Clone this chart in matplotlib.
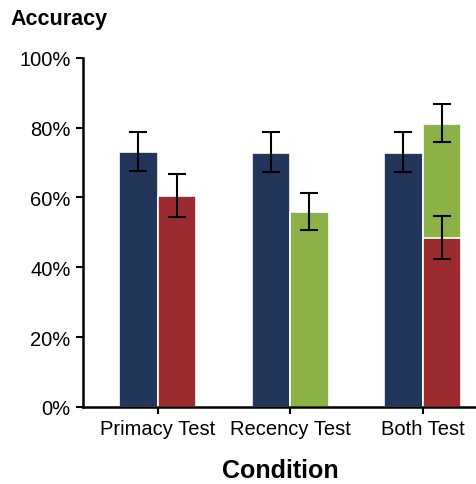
import numpy as np
import matplotlib
matplotlib.use('Agg')
import matplotlib.pyplot as plt
from matplotlib.ticker import FuncFormatter

plt.rcParams['font.family'] = ['Liberation Sans', 'DejaVu Sans']

# data
conditions = ['Primacy Test', 'Recency Test', 'Both Test']
primacy_mean = [73.1, 72.7, 72.7]      # left (navy) bars
primacy_lo = [67.7, 67.2, 67.2]
primacy_hi = [78.9, 78.7, 78.7]
recency_mean = [None, 55.8, 81.0]      # green bars
recency_lo = [None, 50.7, 75.8]
recency_hi = [None, 61.2, 86.8]
both_mean = [60.3, None, 48.4]         # red bars
both_lo = [54.4, None, 42.3]
both_hi = [66.8, None, 54.8]

navy = '#22355a'
green = '#8cb146'
red = '#9c2b30'

fig = plt.figure(figsize=(4.77, 4.85), dpi=100)
ax = fig.add_axes([0.174, 0.159, 0.826, 0.7196])

x = np.arange(1, len(conditions) + 1)
w = 0.29
off = w / 2

def draw(xs, means, lo, hi, color):
    for xi, m, l, h in zip(xs, means, lo, hi):
        if m is None:
            continue
        ax.bar(xi, m, width=w, color=color, edgecolor='white', linewidth=1.2, zorder=2)
        ax.errorbar(xi, m, yerr=[[m - l], [h - m]], fmt='none', ecolor='black',
                    elinewidth=1.5, capsize=6.5, capthick=1.5, zorder=4)

draw(x - off, primacy_mean, primacy_lo, primacy_hi, navy)
draw(x + off, recency_mean, recency_lo, recency_hi, green)
draw(x + off, both_mean, both_lo, both_hi, red)

ax.set_xlim(0.437, 3.41)
ax.set_ylim(0, 100)
ax.set_xticks(x)
ax.set_xticklabels(conditions)
ax.set_yticks([0, 20, 40, 60, 80, 100])
ax.yaxis.set_major_formatter(FuncFormatter(lambda v, p: '%d%%' % v))
ax.tick_params(axis='both', labelsize=14.5, length=5, width=1.5, colors='black', pad=4)
for s in ['top', 'right']:
    ax.spines[s].set_visible(False)
for s in ['left', 'bottom']:
    ax.spines[s].set_linewidth(1.8)

ax.set_xlabel('Condition', fontsize=18, fontweight='bold', labelpad=14)
fig.text(0.021, 0.96, 'Accuracy', fontsize=15.5, fontweight='bold', va='center', ha='left')

fig.savefig('out.png', dpi=100)
